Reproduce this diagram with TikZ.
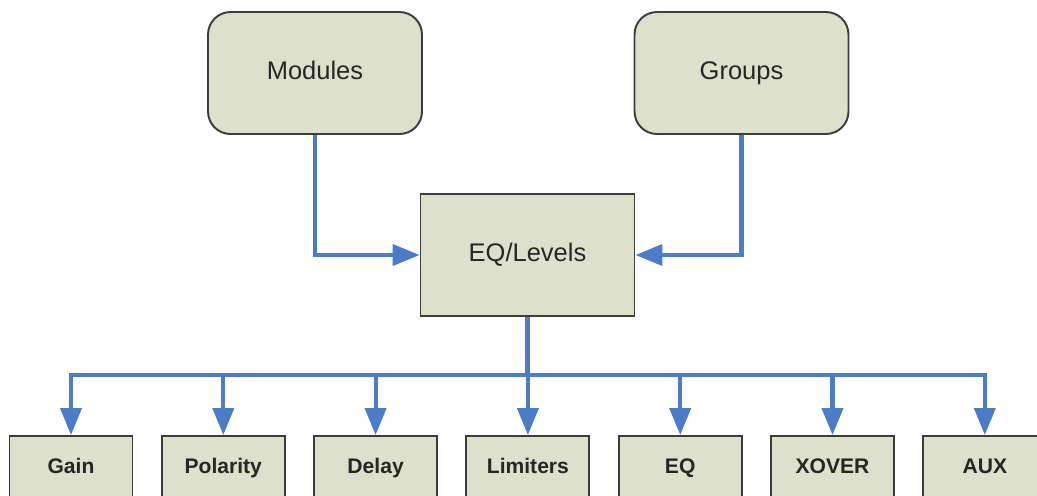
\documentclass[tikz,border=0pt]{standalone}
\usepackage{fontspec}
\setmainfont{Liberation Sans}
\usetikzlibrary{arrows.meta,positioning}

\definecolor{boxfill}{HTML}{DDE0CB}
\definecolor{boxline}{HTML}{3C3C3C}
\definecolor{linkblue}{HTML}{4A7CC8}

\tikzset{
    block/.style={draw=boxline, line width=1.1pt, fill=boxfill, text=black!85,
        text height=0.72em, text depth=0pt,
        minimum width=4.28cm, minimum height=2.44cm, font=\fontsize{14.5}{16}\selectfont},
    roundblock/.style={block, rounded corners=0.45cm},
    leaf/.style={draw=boxline, line width=1.1pt, fill=boxfill, text=black!85,
        text height=0.72em, text depth=0pt,
        minimum width=2.46cm, minimum height=1.24cm, font=\fontsize{12}{14}\selectfont\bfseries},
    link/.style={draw=linkblue, line width=2.3pt, line join=miter,
        -{Triangle[length=0.54cm, width=0.42cm]}},
    bus/.style={draw=linkblue, line width=2.3pt, line join=miter}
}

\begin{document}
\begin{tikzpicture}[x=0.02cm, y=-0.02cm]
    % Frame of the picture
    \useasboundingbox (0,0) rectangle (1037,495);

    % Sources and the central block
    \node[roundblock] (modules) at (315,73) {Modules};
    \node[roundblock] (groups) at (741.5,73) {Groups};
    \node[block] (eqlevels) at (527.5,255) {EQ/Levels};

    % Inputs into EQ/Levels
    \draw[link] (modules.south) |- (eqlevels.west);
    \draw[link] (groups.south) |- (eqlevels.east);

    % Split point under EQ/Levels
    \coordinate (split) at (527.5,375);
    \draw[bus] (eqlevels.south) -- (split);

    % Row of processing blocks
    \foreach \name/\txt [count=\i] in {gain/Gain, polarity/Polarity, delay/Delay,
        limiters/Limiters, eq/EQ, xover/XOVER, aux/AUX} {
        \node[leaf] (\name) at ({71+152.3*(\i-1)},467) {\txt};
        \draw[link] (split) -| (\name.north);
    }
\end{tikzpicture}
\end{document}
